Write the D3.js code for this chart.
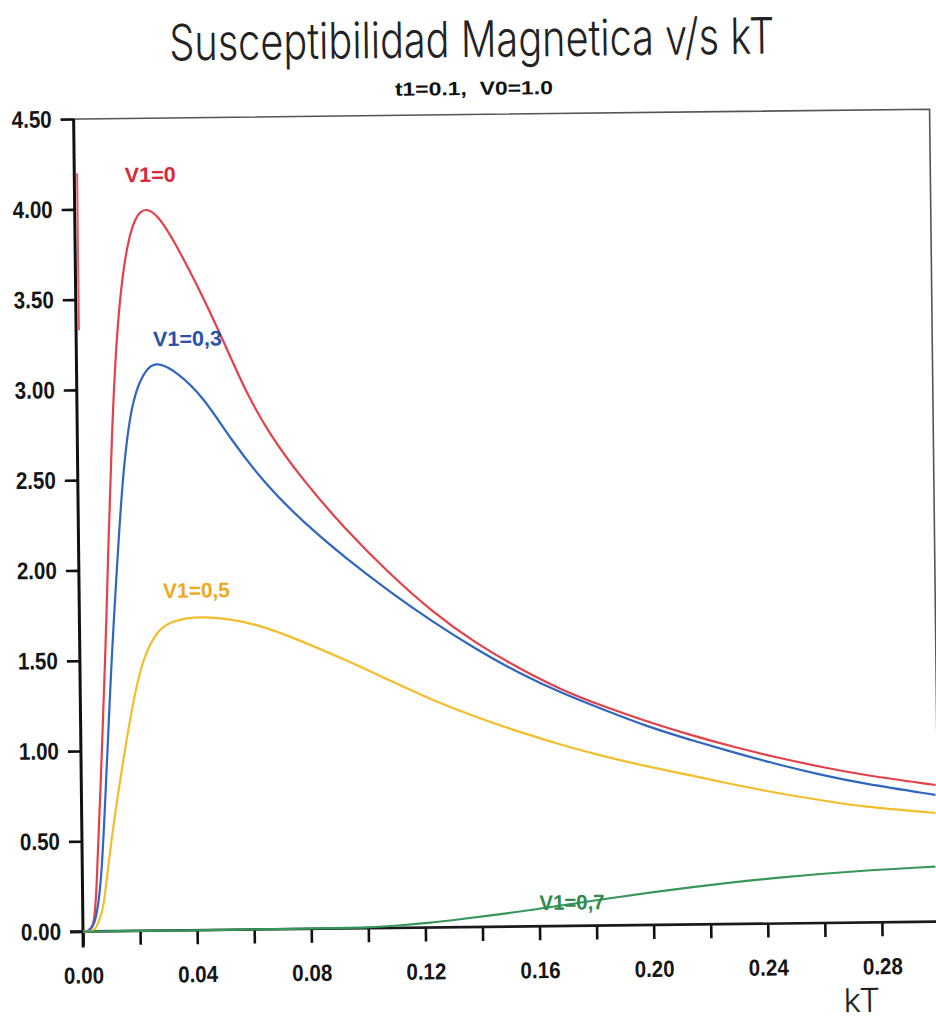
<!DOCTYPE html>
<html>
<head>
<meta charset="utf-8">
<script src="https://cdn.jsdelivr.net/npm/d3@7"></script>
<style>
  html, body { margin: 0; padding: 0; background: #fff; }
  svg { display: block; }
</style>
</head>
<body>
<svg id="chart" width="936" height="1021"></svg>
<script>
// Magnetic susceptibility against kT for several V1 values (t1 = 0.1, V0 = 1.0)

// kT samples and susceptibility values, one pair of arrays per curve
const kTV10  = [0, 0.0042, 0.0050, 0.0069, 0.0085, 0.0093, 0.0105, 0.0120, 0.0142, 0.0174, 0.0211, 0.0250, 0.0289, 0.0333, 0.0424, 0.0515, 0.0589, 0.0675, 0.0789, 0.0937, 0.1086, 0.1235, 0.1386, 0.1536, 0.1686, 0.1837, 0.1987, 0.2138, 0.2288, 0.2438, 0.2588, 0.2738, 0.2994];
const chiV10 = [0, 0, 0.284, 0.838, 1.391, 1.668, 2.150, 2.720, 3.328, 3.753, 3.964, 4.006, 3.962, 3.860, 3.582, 3.266, 2.988, 2.737, 2.486, 2.207, 1.966, 1.750, 1.573, 1.431, 1.307, 1.211, 1.126, 1.049, 0.980, 0.920, 0.866, 0.817, 0.757];

const kTV103  = [0, 0.0042, 0.0068, 0.0087, 0.0107, 0.0118, 0.0143, 0.0160, 0.0185, 0.0215, 0.0251, 0.0287, 0.0351, 0.0443, 0.0535, 0.0656, 0.0787, 0.0937, 0.1086, 0.1235, 0.1386, 0.1536, 0.1686, 0.1837, 0.1987, 0.2137, 0.2288, 0.2438, 0.2588, 0.2737, 0.2993];
const chiV103 = [0, 0, 0.284, 0.838, 1.391, 1.667, 2.221, 2.550, 2.860, 3.030, 3.125, 3.147, 3.094, 2.954, 2.722, 2.466, 2.255, 2.049, 1.865, 1.696, 1.541, 1.404, 1.290, 1.193, 1.098, 1.022, 0.950, 0.882, 0.822, 0.770, 0.702];

const kTV105  = [0, 0.0042, 0.0053, 0.0072, 0.0085, 0.0108, 0.0142, 0.0177, 0.0207, 0.0229, 0.0270, 0.0317, 0.0434, 0.0621, 0.0782, 0.0932, 0.1082, 0.1232, 0.1383, 0.1534, 0.1684, 0.1835, 0.1986, 0.2136, 0.2286, 0.2437, 0.2587, 0.2737, 0.2992];
const chiV105 = [0, 0, 0.046, 0.118, 0.284, 0.560, 0.892, 1.207, 1.420, 1.530, 1.655, 1.715, 1.745, 1.697, 1.591, 1.487, 1.373, 1.260, 1.164, 1.079, 1.002, 0.935, 0.877, 0.826, 0.772, 0.723, 0.681, 0.641, 0.602];

const kTV107  = [0, 0.0760, 0.0995, 0.1100, 0.1226, 0.1300, 0.1461, 0.1602, 0.1830, 0.2131, 0.2432, 0.2735, 0.2990];
const chiV107 = [0, 0, 0.003, 0.012, 0.028, 0.040, 0.068, 0.097, 0.148, 0.207, 0.255, 0.288, 0.305];

// short pen trace of the V1=0 curve along the chi axis
const kTTrace  = [0.001, 0.001];
const chiTrace = [4.20, 3.33];

// curve names and where their labels sit (kT, chi)
const seriesNames = ["V1=0", "V1=0,3", "V1=0,5", "V1=0,7"];
const labelKT  = [0.0177, 0.0269, 0.0294, 0.1601];
const labelChi = [4.147, 3.237, 1.842, 0.090];

// axis ticks
const xTickValues = [0, 0.02, 0.04, 0.06, 0.08, 0.10, 0.12, 0.14, 0.16, 0.18, 0.20, 0.22, 0.24, 0.26, 0.28, 0.30];
const xTickLabels = ["0.00", "", "0.04", "", "0.08", "", "0.12", "", "0.16", "", "0.20", "", "0.24", "", "0.28", ""];
const yTickValues = [0, 0.5, 1.0, 1.5, 2.0, 2.5, 3.0, 3.5, 4.0, 4.5];
const yTickLabels = ["0.00", "0.50", "1.00", "1.50", "2.00", "2.50", "3.00", "3.50", "4.00", "4.50"];

// ---- layout ----
const originX = 83, originY = 931.5;
const plotW = 856, plotH = 812.5;
const tilt = -0.66;

const lineColors  = ["#e5404a", "#2f66c2", "#f4bd2a", "#36975b"];
const labelColors = ["#d8283a", "#2a52aa", "#f0a91c", "#2f8a4e"];
const narrow = "'Liberation Sans Narrow', 'Arial Narrow', 'Liberation Sans', Arial, sans-serif";
const light  = "Inter, Lato, 'Open Sans', sans-serif";

const svg = d3.select("#chart");
svg.append("rect").attr("width", 936).attr("height", 1021).attr("fill", "#fff");

const page = svg.append("g").attr("transform", `rotate(${tilt}, ${originX}, ${originY})`);

// titles
page.append("text")
  .attr("x", 482).attr("y", 61.5)
  .attr("text-anchor", "middle")
  .attr("font-family", light).attr("font-weight", 300)
  .attr("font-size", 50)
  .attr("textLength", 605).attr("lengthAdjust", "spacingAndGlyphs")
  .attr("fill", "#222")
  .text("Susceptibilidad Magnetica v/s kT");

page.append("text")
  .attr("x", 483.6).attr("y", 99.5)
  .attr("text-anchor", "middle")
  .attr("font-family", narrow).attr("font-weight", "bold")
  .attr("font-size", 19)
  .attr("textLength", 158).attr("lengthAdjust", "spacingAndGlyphs")
  .attr("fill", "#111")
  .attr("xml:space", "preserve")
  .text("t1=0.1,  V0=1.0");

const plot = page.append("g").attr("transform", `translate(${originX},${originY - plotH})`);

const x = d3.scaleLinear().domain([0, 0.30]).range([0, plotW]);
const y = d3.scaleLinear().domain([0, 4.5]).range([plotH, 0]);

// frame: top and right edges
plot.append("path")
  .attr("d", `M${-13},${y(4.5)}H${x(0.30)}V${y(0)}`)
  .attr("fill", "none").attr("stroke", "#555").attr("stroke-width", 1.6);

// y axis
const yAxis = plot.append("g")
  .call(d3.axisLeft(y).tickValues(yTickValues).tickFormat((d, i) => yTickLabels[i]).tickSize(13).tickPadding(9));
yAxis.select(".domain").remove();
yAxis.selectAll(".tick line").attr("stroke", "#111").attr("stroke-width", 2.6);
yAxis.selectAll(".tick text")
  .attr("font-family", narrow).attr("font-weight", "bold").attr("font-size", 24)
  .attr("textLength", 40).attr("lengthAdjust", "spacingAndGlyphs")
  .attr("fill", "#151515");

// x axis
const xAxis = plot.append("g")
  .attr("transform", `translate(0,${plotH})`)
  .call(d3.axisBottom(x).tickValues(xTickValues).tickFormat((d, i) => xTickLabels[i]).tickSize(14));
xAxis.select(".domain").remove();
xAxis.selectAll(".tick line").attr("stroke", "#111").attr("stroke-width", 2.6);
xAxis.selectAll(".tick text")
  .attr("y", 52).attr("dy", 0)
  .attr("font-family", narrow).attr("font-weight", "bold").attr("font-size", 23)
  .attr("textLength", 40).attr("lengthAdjust", "spacingAndGlyphs")
  .attr("fill", "#151515");
xAxis.selectAll(".tick text").filter(function () { return this.textContent === ""; }).remove();

// axis lines
plot.append("line")
  .attr("x1", x(0)).attr("x2", x(0)).attr("y1", y(4.5)).attr("y2", y(0) + 16)
  .attr("stroke", "#111").attr("stroke-width", 3);
plot.append("line")
  .attr("x1", -13).attr("x2", x(0.30)).attr("y1", y(0)).attr("y2", y(0))
  .attr("stroke", "#1a1a1a").attr("stroke-width", 2.6);

// axis title
page.append("text")
  .attr("x", 861).attr("y", 1021)
  .attr("text-anchor", "middle")
  .attr("font-family", light).attr("font-weight", 300)
  .attr("font-size", 33)
  .attr("fill", "#222")
  .text("kT");

// curves
const series = [
  { kT: kTV10,  chi: chiV10 },
  { kT: kTV103, chi: chiV103 },
  { kT: kTV105, chi: chiV105 },
  { kT: kTV107, chi: chiV107 }
];

const line = d3.line()
  .x(d => x(d[0]))
  .y(d => y(d[1]))
  .curve(d3.curveBasis);

plot.append("path")
  .attr("d", d3.line().x(d => x(d[0])).y(d => y(d[1]))(kTTrace.map((k, i) => [k, chiTrace[i]])))
  .attr("fill", "none").attr("stroke", lineColors[0]).attr("stroke-width", 2).attr("opacity", 0.85);

series.forEach((s, i) => {
  plot.append("path")
    .datum(s.kT.map((k, j) => [k, s.chi[j]]))
    .attr("d", line)
    .attr("fill", "none")
    .attr("stroke", lineColors[i])
    .attr("stroke-width", 2.2)
    .attr("stroke-linejoin", "round");
});

// curve labels
const labelWidths = [51, 69, 67, 65];
seriesNames.forEach((name, i) => {
  plot.append("text")
    .attr("x", x(labelKT[i])).attr("y", y(labelChi[i]))
    .attr("font-family", narrow).attr("font-weight", "bold").attr("font-size", 21)
    .attr("textLength", labelWidths[i]).attr("lengthAdjust", "spacingAndGlyphs")
    .attr("fill", labelColors[i])
    .text(name);
});
</script>
</body>
</html>
